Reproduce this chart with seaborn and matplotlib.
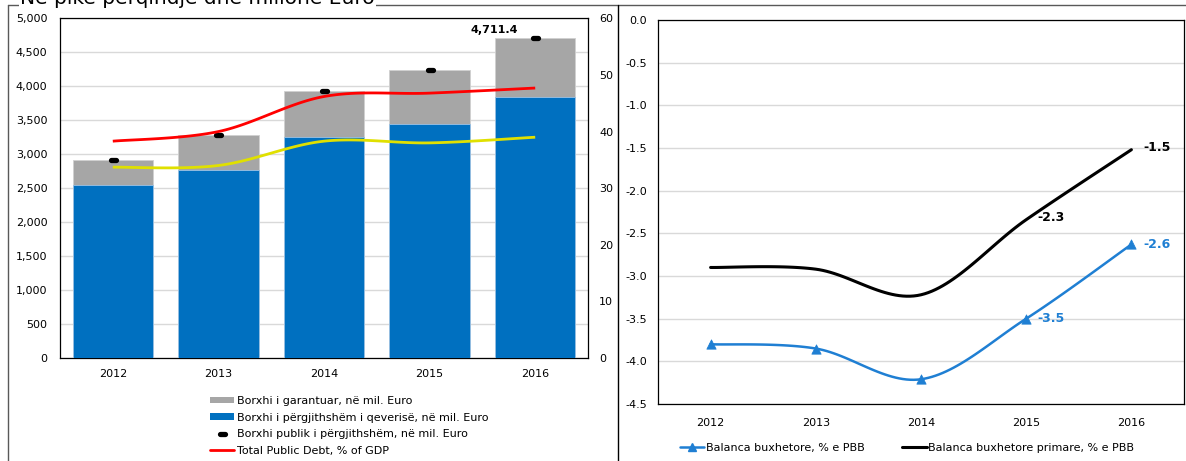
import numpy as np
import pandas as pd
import matplotlib
matplotlib.use("Agg")
import matplotlib.pyplot as plt
import seaborn as sns
from matplotlib.lines import Line2D
from matplotlib.patches import Patch
from matplotlib.markers import MarkerStyle

# Data
years = ['2012', '2013', '2014', '2015', '2016']
debt_total = [2910, 3285, 3929, 4235, 4711.4]        # Borxhi publik i pergjithshem
debt_govt = [2546, 2767, 3258, 3445, 3843]           # Borxhi i pergjithshem i qeverise
debt_pct_gdp = [38.3, 40.0, 46.2, 46.8, 47.7]        # red line, right axis
yellow_line = [33.7, 34.0, 38.3, 38.0, 39.0]         # yellow line, right axis
balance = [-3.80, -3.85, -4.21, -3.50, -2.63]        # Balanca buxhetore
primary_balance = [-2.90, -2.92, -3.22, -2.34, -1.52]  # Balanca buxhetore primare

sns.set_theme(style="white")
plt.rcParams['font.family'] = ['DejaVu Sans']
plt.rcParams['font.size'] = 8
plt.rcParams['text.color'] = 'black'
plt.rcParams['xtick.color'] = 'black'
plt.rcParams['ytick.color'] = 'black'

BLUE = '#0070C0'
GRAY = '#A6A6A6'
LBLUE = '#1F7FD3'


def smooth(y, n=30):
    # excel style smoothed line (catmull-rom bezier through the points)
    x = np.arange(len(y), dtype=float)
    pts = np.column_stack([x, np.asarray(y, dtype=float)])
    out = []
    for i in range(len(pts) - 1):
        p0 = pts[max(i - 1, 0)]
        p1 = pts[i]
        p2 = pts[i + 1]
        p3 = pts[min(i + 2, len(pts) - 1)]
        c1 = p1 + (p2 - p0) / 6
        c2 = p2 - (p3 - p1) / 6
        t = np.linspace(0, 1, n)[:, None]
        seg = (1 - t) ** 3 * p1 + 3 * (1 - t) ** 2 * t * c1 + 3 * (1 - t) * t ** 2 * c2 + t ** 3 * p2
        out.append(seg if i == 0 else seg[1:])
    out = np.vstack(out)
    return out[:, 0], out[:, 1]


W, H = 1186, 461
fig = plt.figure(figsize=(W / 100, H / 100), dpi=100)


def fx(px):
    return px / W


def fy(py):
    return 1 - py / H


# ---------------- left panel: debt ----------------
ax1 = fig.add_axes([fx(60), fy(357.7), fx(588) - fx(60), fy(18.5) - fy(357.7)])
df = pd.DataFrame({'year': years, 'total': debt_total, 'govt': debt_govt})
sns.barplot(data=df, x='year', y='total', color=GRAY, saturation=1, width=0.76,
            edgecolor='#D0D0D0', linewidth=0.6, ax=ax1, zorder=2)
sns.barplot(data=df, x='year', y='govt', color=BLUE, saturation=1, width=0.76,
            edgecolor='#9DC3E6', linewidth=0.6, ax=ax1, zorder=3)
dash = MarkerStyle('_', capstyle='round')
ax1.plot(range(len(years)), debt_total, linestyle='none', marker=dash, markersize=3.6,
         markeredgewidth=3.8, color='black', zorder=5)
ax1.text(len(years) - 1 - 0.16, debt_total[-1] + 40, f"{debt_total[-1]:,.1f}",
         ha='right', va='bottom', fontsize=8, fontweight='bold')
ax1.set_xlim(-0.5, 4.5)
ax1.set_ylim(0, 5000)
ax1.set_yticks(range(0, 5001, 500))
ax1.set_yticklabels([f"{v:,}" for v in range(0, 5001, 500)])
ax1.yaxis.grid(True, color='#D9D9D9', linewidth=1, zorder=0)
ax1.set_axisbelow(True)
ax1.set_xlabel('')
ax1.set_ylabel('')
ax1.tick_params(axis='y', length=0, pad=9, labelsize=8)
ax1.tick_params(axis='x', length=0, pad=8, labelsize=8)
for s in ax1.spines.values():
    s.set_color('black')
    s.set_linewidth(0.9)

ax2 = ax1.twinx()
xs, ys = smooth(debt_pct_gdp)
ax2.plot(xs, ys, color='#FF0000', linewidth=2, solid_capstyle='butt')
xs, ys = smooth(yellow_line)
ax2.plot(xs, ys, color='#E0E000', linewidth=2, solid_capstyle='butt')
ax2.set_ylim(0, 60)
ax2.set_yticks(range(0, 61, 10))
ax2.tick_params(axis='y', length=0, pad=8, labelsize=8)
for s in ax2.spines.values():
    s.set_visible(False)

left_handles = [
    Patch(facecolor=GRAY, edgecolor='none'),
    Patch(facecolor=BLUE, edgecolor='none'),
    Line2D([], [], linestyle='none', marker=dash, markersize=3.6, markeredgewidth=3.8, color='black'),
    Line2D([], [], color='#FF0000', linewidth=2),
]
left_labels = ['Borxhi i garantuar, në mil. Euro',
               'Borxhi i përgjithshëm i qeverisë, në mil. Euro',
               'Borxhi publik i përgjithshëm, në mil. Euro',
               'Total Public Debt, % of GDP']
fig.legend(left_handles, left_labels, loc='upper left', bbox_to_anchor=(fx(210), fy(396)),
           frameon=False, fontsize=8, handlelength=2.2, handleheight=0.55,
           handletextpad=0.2, labelspacing=0.6, borderpad=0, borderaxespad=0)

# ---------------- right panel: budget balance ----------------
ax3 = fig.add_axes([fx(658), fy(404), fx(1184) - fx(658), fy(20) - fy(404)])
xs, ys = smooth(primary_balance)
ax3.plot(xs, ys, color='black', linewidth=2.2)
xs, ys = smooth(balance)
ax3.plot(xs, ys, color=LBLUE, linewidth=1.8)
sns.scatterplot(x=list(range(len(years))), y=balance, marker='^', s=45, color=LBLUE,
                edgecolor=LBLUE, ax=ax3, zorder=4)
for i in (3, 4):
    ax3.text(i + 0.11, balance[i], f"{balance[i]:.1f}", color=LBLUE, fontsize=9,
             fontweight='bold', ha='left', va='center')
    ax3.text(i + 0.11, primary_balance[i] + 0.03, f"{primary_balance[i]:.1f}", color='black',
             fontsize=9, fontweight='bold', ha='left', va='center')
ax3.set_xlim(-0.5, 4.5)
ax3.set_ylim(-4.5, 0)
ax3.set_xticks(range(len(years)))
ax3.set_xticklabels(years)
yt = np.arange(0, -4.51, -0.5)
ax3.set_yticks(yt)
ax3.set_yticklabels([f"{v:.1f}" for v in yt])
ax3.yaxis.grid(True, color='#D9D9D9', linewidth=1)
ax3.set_axisbelow(True)
ax3.tick_params(axis='y', length=0, pad=8, labelsize=8)
ax3.tick_params(axis='x', length=0, pad=10, labelsize=8)
for s in ax3.spines.values():
    s.set_color('black')
    s.set_linewidth(0.9)

right_handles = [
    Line2D([], [], color=LBLUE, linewidth=1.8, marker='^', markersize=6),
    Line2D([], [], color='black', linewidth=2.2),
]
right_labels = ['Balanca buxhetore, % e PBB', 'Balanca buxhetore primare, % e PBB']
fig.legend(right_handles, right_labels, loc='center left', bbox_to_anchor=(fx(680), fy(448)),
           ncol=2, frameon=False, fontsize=8, handlelength=2.2, handletextpad=0.1,
           columnspacing=3.4, borderpad=0, borderaxespad=0)

# ---------------- outer panel borders and clipped title ----------------
bc = '#595959'
fig.add_artist(Line2D([fx(8), fx(1186)], [fy(5), fy(5)], color=bc, linewidth=1))
fig.add_artist(Line2D([fx(8), fx(8)], [fy(5), fy(461)], color=bc, linewidth=1))
fig.add_artist(Line2D([fx(618), fx(618)], [fy(5), fy(461)], color='black', linewidth=1))
fig.text(fx(20), fy(4), 'Në pikë përqindje dhe milionë Euro', fontsize=14.5,
         ha='left', va='baseline',
         bbox=dict(facecolor='white', edgecolor='none', pad=1))

fig.savefig('out.png', dpi=100)
